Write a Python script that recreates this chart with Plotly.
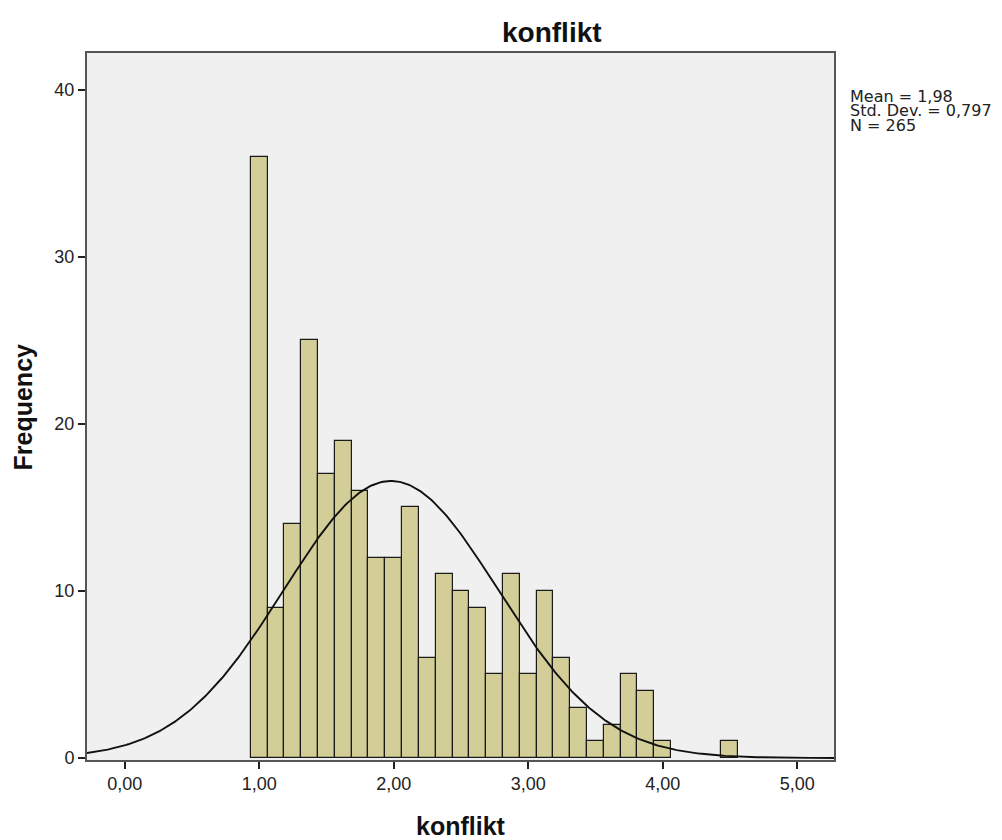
import numpy as np
import plotly.graph_objects as go

# ---- data ----
bin_centers = [1.0, 1.125, 1.25, 1.375, 1.5, 1.625, 1.75, 1.875, 2.0, 2.125,
               2.25, 2.375, 2.5, 2.625, 2.75, 2.875, 3.0, 3.125, 3.25, 3.375,
               3.5, 3.625, 3.75, 3.875, 4.0, 4.5]
frequencies = [36, 9, 14, 25, 17, 19, 16, 12, 12, 15,
               6, 11, 10, 9, 5, 11, 5, 10, 6, 3,
               1, 2, 5, 4, 1, 1]
bin_width = 0.125
mean_value = 1.98
std_dev = 0.797
n_total = 265
x_tick_vals = [0, 1, 2, 3, 4, 5]
x_tick_text = ["0,00", "1,00", "2,00", "3,00", "4,00", "5,00"]
y_tick_vals = [0, 10, 20, 30, 40]
stats_lines = ["Mean = 1,98", "Std. Dev. = 0,797", "N = 265"]

x_range = [-0.28, 5.274]
y_range = [-0.12, 42.2]

# normal curve from the stated mean / std / N
xc = np.linspace(x_range[0], x_range[1], 400)
yc = n_total * bin_width * np.exp(-0.5 * ((xc - mean_value) / std_dev) ** 2) / (std_dev * np.sqrt(2 * np.pi))

fig = go.Figure()
fig.add_trace(go.Bar(
    x=bin_centers, y=frequencies, width=bin_width,
    marker=dict(color="#d3ce97", line=dict(color="#1a1a1a", width=1.2)),
    hoverinfo="x+y", showlegend=False,
))
fig.add_trace(go.Scatter(
    x=xc, y=yc, mode="lines", line=dict(color="#111111", width=1.9),
    showlegend=False, hoverinfo="skip",
))

fig.update_layout(
    width=994, height=832,
    margin=dict(l=79, r=168, t=45, b=80),
    paper_bgcolor="white", plot_bgcolor="#f0f0f0",
    font=dict(family="Liberation Sans, Arial, sans-serif", color="#222222"),
    bargap=0,
)
fig.update_xaxes(
    range=x_range, tickvals=x_tick_vals, ticktext=x_tick_text,
    showgrid=False, zeroline=False,
    ticks="outside", ticklen=7, tickwidth=1.5, tickcolor="#222222",
    tickfont=dict(size=18, color="#222222"),
    showline=True, linecolor="#555555", linewidth=1.5, mirror=True,
)
fig.update_yaxes(
    range=y_range, tickvals=y_tick_vals,
    showgrid=False, zeroline=False,
    ticks="outside", ticklen=7, tickwidth=1.5, tickcolor="#222222",
    tickfont=dict(size=18, color="#222222"),
    showline=True, linecolor="#555555", linewidth=2, mirror=True,
)

annos = [
    dict(text="<b>konflikt</b>", x=0.6225, y=1.0297, font=dict(size=28, color="#111111")),
    dict(text="<b>konflikt</b>", x=0.5, y=-0.093, font=dict(size=25, color="#111111")),
    dict(text="<b>Frequency</b>", x=-0.0857, y=0.5, textangle=-90, font=dict(size=25, color="#111111")),
]
for a in annos:
    fig.add_annotation(xref="paper", yref="paper", showarrow=False,
                       xanchor="center", yanchor="middle", **a)

stat_y = [0.9385, 0.9180, 0.8975]
for line, yy in zip(stats_lines, stat_y):
    fig.add_annotation(xref="paper", yref="paper", showarrow=False,
                       x=1.0187, y=yy, xanchor="left", yanchor="middle",
                       text=line, font=dict(family="DejaVu Sans, sans-serif", size=16, color="#222222"))

fig.write_html("out.html")
